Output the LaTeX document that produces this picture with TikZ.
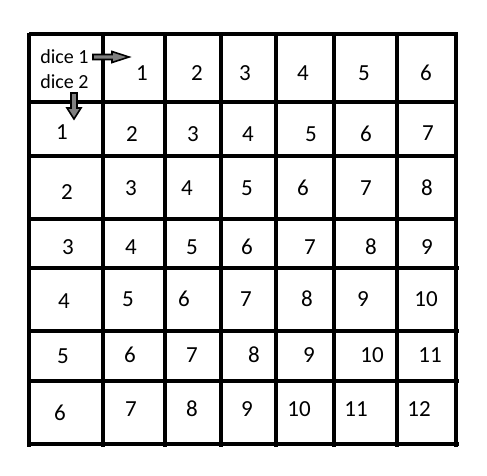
\documentclass[tikz,border=0pt]{standalone}
\usepackage{fontspec}
\setmainfont{Carlito}
\begin{document}
\begin{tikzpicture}[x=1pt,y=-1pt,
  num/.style={inner sep=0pt,font=\fontsize{23}{23}\selectfont,text=black},
  lbl/.style={inner sep=0pt,font=\fontsize{20}{20}\selectfont,text=black},
  grid/.style={line width=3.4pt,black},
  blockarrow/.style={fill=black!50,draw=black,line width=1.6pt,line join=miter}]
\useasboundingbox (0,0) rectangle (487,475);
% horizontal lines
\foreach \y in {34,102,156,219} \draw[grid] (29,\y) -- (457.5,\y);
\foreach \y in {268,331,381,444} \draw[grid] (27,\y) -- (458.5,\y);
% vertical lines
\foreach \x in {29,103,165,221,276,334,397,456} \draw[grid] (\x,32.5) -- (\x,446.5);
% header labels
\node[lbl] (d1) at (64.5,57) {dice 1};
\node[lbl] (d2) at (64.5,82) {dice 2};
\coordinate (ra) at (93,57);
\coordinate (da) at (74,93);
\draw[blockarrow] (ra) ++(0,-2.5) -- ++(19,0) -- ++(0,-3) -- (129,57) -- (112,62.5) -- ++(0,-3) -- (93,59.5) -- cycle;
\draw[blockarrow] (da) ++(-3,0) -- ++(6,0) -- ++(0,15) -- ++(4,0) -- (74,119) -- (67,108) -- ++(4,0) -- cycle;
% header row
\node[num] (h1) at (142,73) {1};
\node[num] (h2) at (197,73) {2};
\node[num] (h3) at (245,73) {3};
\node[num] (h4) at (303,73) {4};
\node[num] (h5) at (364,73) {5};
\node[num] (h6) at (426,73) {6};
% row 1
\node[num] (r1c0) at (62,132) {1};
\node[num] (r1c1) at (132,134) {2};
\node[num] (r1c2) at (193,134) {3};
\node[num] (r1c3) at (248,134) {4};
\node[num] (r1c4) at (311,134) {5};
\node[num] (r1c5) at (366,134) {6};
\node[num] (r1c6) at (428,133) {7};
% row 2
\node[num] (r2c0) at (67,192) {2};
\node[num] (r2c1) at (131,188) {3};
\node[num] (r2c2) at (187,188) {4};
\node[num] (r2c3) at (247,188) {5};
\node[num] (r2c4) at (303,188) {6};
\node[num] (r2c5) at (366,188) {7};
\node[num] (r2c6) at (427,188) {8};
% row 3
\node[num] (r3c0) at (68,247) {3};
\node[num] (r3c1) at (131,247) {4};
\node[num] (r3c2) at (192,247) {5};
\node[num] (r3c3) at (247,247) {6};
\node[num] (r3c4) at (310,247) {7};
\node[num] (r3c5) at (371,247) {8};
\node[num] (r3c6) at (427,247) {9};
% row 4
\node[num] (r4c0) at (64,301) {4};
\node[num] (r4c1) at (128,299) {5};
\node[num] (r4c2) at (184,299) {6};
\node[num] (r4c3) at (246,299) {7};
\node[num] (r4c4) at (307,299) {8};
\node[num] (r4c5) at (363,299) {9};
\node[num] (r4c6) at (426,299) {10};
% row 5
\node[num] (r5c0) at (63,356) {5};
\node[num] (r5c1) at (130,355) {6};
\node[num] (r5c2) at (192,355) {7};
\node[num] (r5c3) at (254,355) {8};
\node[num] (r5c4) at (309,355) {9};
\node[num] (r5c5) at (372,355) {10};
\node[num] (r5c6) at (430,355) {11};
% row 6
\node[num] (r6c0) at (60,413) {6};
\node[num] (r6c1) at (131,409) {7};
\node[num] (r6c2) at (192,409) {8};
\node[num] (r6c3) at (247,409) {9};
\node[num] (r6c4) at (299,409) {10};
\node[num] (r6c5) at (356,409) {11};
\node[num] (r6c6) at (419,409) {12};
\end{tikzpicture}
\end{document}
